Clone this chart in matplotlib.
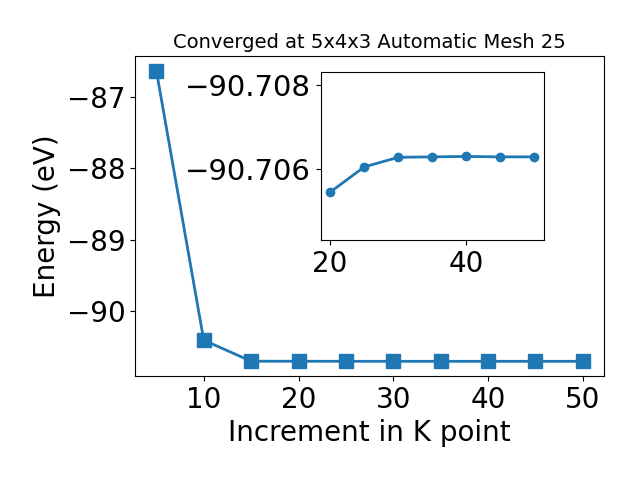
import numpy as np
import matplotlib
matplotlib.use("Agg")
import matplotlib.pyplot as plt

# --- data ---
kpts = [5, 10, 15, 20, 25, 30, 35, 40, 45, 50]
energy = [-86.63, -90.41, -90.705, -90.7055, -90.7061, -90.7063, -90.7063, -90.7063, -90.7063, -90.7063]

kpts_zoom = [20, 25, 30, 35, 40, 45, 50]
energy_zoom = [-90.70546, -90.70606, -90.70629, -90.70630, -90.70631, -90.70630, -90.70630]

fig = plt.figure(figsize=(6.4, 4.8), dpi=100)
ax = fig.add_axes([0.211, 0.217, 0.733, 0.666])
ax.plot(kpts, energy, marker='s', markersize=10, linewidth=2, color='#1f77b4')
ax.set_xlabel("Increment in K point", fontsize=20)
ax.set_ylabel("Energy (eV)", fontsize=20)
ax.set_title("Converged at 5x4x3 Automatic Mesh 25", fontsize=14)
ax.tick_params(labelsize=20)
ax.set_yticks([-87, -88, -89, -90])

# --- inset zoom on the converged part ---
ins = fig.add_axes([0.501, 0.5, 0.349, 0.349])
ins.plot(kpts_zoom, energy_zoom, marker='o', markersize=6, linewidth=2, color='#1f77b4')
ins.set_xlim(18.6, 51.4)
ins.set_ylim(-90.70432, -90.70831)
ins.set_yticks([-90.708, -90.706])
ins.set_yticklabels(["\u221290.708", "\u221290.706"])
ins.set_xticks([20, 40])
ins.tick_params(axis='x', labelsize=20)
ins.tick_params(axis='y', labelsize=21)

fig.savefig("out.png", dpi=100)
